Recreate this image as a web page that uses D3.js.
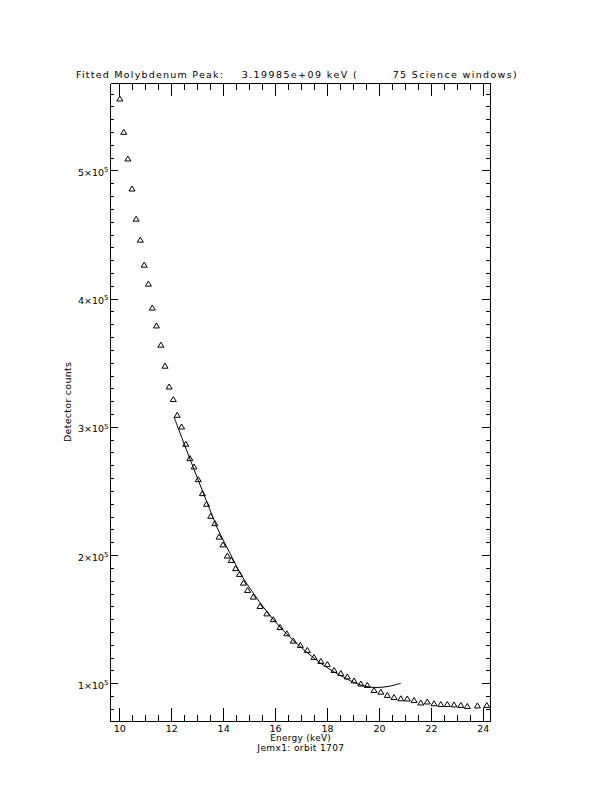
<!DOCTYPE html>
<html><head><meta charset="utf-8">
<script src="https://cdn.jsdelivr.net/npm/d3@7"></script>
<style>
html,body{margin:0;padding:0;background:#fff;}
svg{display:block;}
text{font-family:"DejaVu Sans",sans-serif;fill:#000;}
</style>
</head><body>
<svg id="chart" width="612" height="792"></svg>
<script>
// ---- data ----
const energy = [10.02,10.17,10.33,10.49,10.65,10.81,10.96,11.12,11.27,11.43,
  11.60,11.76,11.92,12.08,12.23,12.40,12.56,12.72,12.88,13.04,
  13.20,13.36,13.52,13.68,13.84,13.99,14.16,14.31,14.48,14.63,
  14.78,14.94,15.16,15.42,15.68,15.93,16.19,16.45,16.70,16.97,
  17.24,17.50,17.76,18.01,18.27,18.53,18.78,19.04,19.30,19.55,
  19.81,20.07,20.32,20.58,20.84,21.09,21.35,21.61,21.86,22.12,
  22.38,22.63,22.89,23.15,23.40,23.79,24.15];
const counts = [556100,530100,509300,485900,462400,446000,426500,411700,393000,379100,
  364100,347700,331500,321700,309400,300300,286800,275600,269100,259200,
  248300,240000,230600,224900,214400,208300,199600,196200,189800,185300,
  178500,172800,167600,160300,154500,150000,143900,139000,133300,129900,
  126000,120500,117400,115100,110400,108000,105300,102200,99800,98700,
  94800,93400,90900,89300,88300,88100,87000,85000,85800,84400,
  83800,83800,83500,83100,82300,82700,83100];
const fitEnergy = [12.11,12.53,12.98,13.37,13.81,14.26,14.71,15.16,15.68,16.19,
  16.70,17.22,17.73,18.24,18.76,19.27,19.65,20.04,20.42,20.84];
const fitCounts = [307600,285000,261500,241500,219500,201500,184000,170300,155900,143900,
  133500,124200,116000,109200,103400,98800,97000,96800,97800,100000];

const xMajorTicks = [10,12,14,16,18,20,22,24];
const xMinorTicks = [10.5,11,11.5,12.5,13,13.5,14.5,15,15.5,16.5,17,17.5,18.5,19,19.5,20.5,21,21.5,22.5,23,23.5];
const yMajorTicks = [100000,200000,300000,400000,500000];
const yTickMantissa = ["1","2","3","4","5"];
const yTickExponent = "5";
const xDomain = [9.642, 24.275];
const yDomain = [70570, 568200];

const titleParts = ["Fitted Molybdenum Peak:", "3.19985e+09 keV (", "75 Science windows)"];
const xTitle = "Energy (keV)";
const xSubtitle = "Jemx1: orbit 1707";
const yTitle = "Detector counts";

// ---- layout ----
const L = 110, R = 490, T = 83, B = 721;
const FS = "9.5px";
const svg = d3.select("#chart");
svg.append("rect").attr("width",612).attr("height",792).attr("fill","#fff");

const x = d3.scaleLinear().domain(xDomain).range([L, R]);
const y = d3.scaleLinear().domain(yDomain).range([B, T]);

const yMinorTicks = d3.range(80000, 568000, 10000).filter(v => v % 100000 !== 0);

function styleAxis(g){
  g.selectAll("path,line").attr("stroke","#000").attr("stroke-width",1).attr("shape-rendering","crispEdges");
  g.selectAll("text").attr("font-family","DejaVu Sans, sans-serif").attr("font-size",FS).attr("fill","#000");
}

// bottom
svg.append("g").attr("transform",`translate(0,${B})`)
  .call(d3.axisBottom(x).tickValues(xMajorTicks).tickSizeInner(-13).tickSizeOuter(0).tickPadding(4).tickFormat(d3.format("d")))
  .call(styleAxis);
svg.append("g").attr("transform",`translate(0,${B})`)
  .call(d3.axisBottom(x).tickValues(xMinorTicks).tickSizeInner(-6.5).tickSizeOuter(0).tickFormat(""))
  .call(g=>g.select(".domain").remove()).call(styleAxis);
// top
svg.append("g").attr("transform",`translate(0,${T})`)
  .call(d3.axisTop(x).tickValues(xMajorTicks).tickSizeInner(-13).tickSizeOuter(0).tickFormat(""))
  .call(styleAxis);
svg.append("g").attr("transform",`translate(0,${T})`)
  .call(d3.axisTop(x).tickValues(xMinorTicks).tickSizeInner(-6.5).tickSizeOuter(0).tickFormat(""))
  .call(g=>g.select(".domain").remove()).call(styleAxis);
// left
svg.append("g").attr("transform",`translate(${L},0)`)
  .call(d3.axisLeft(y).tickValues(yMajorTicks).tickSizeInner(-8).tickSizeOuter(0).tickFormat(""))
  .call(styleAxis);
svg.append("g").attr("transform",`translate(${L},0)`)
  .call(d3.axisLeft(y).tickValues(yMinorTicks).tickSizeInner(-4).tickSizeOuter(0).tickFormat(""))
  .call(g=>g.select(".domain").remove()).call(styleAxis);
// right
svg.append("g").attr("transform",`translate(${R},0)`)
  .call(d3.axisRight(y).tickValues(yMajorTicks).tickSizeInner(-8).tickSizeOuter(0).tickFormat(""))
  .call(styleAxis);
svg.append("g").attr("transform",`translate(${R},0)`)
  .call(d3.axisRight(y).tickValues(yMinorTicks).tickSizeInner(-4).tickSizeOuter(0).tickFormat(""))
  .call(g=>g.select(".domain").remove()).call(styleAxis);

// y tick labels with superscript exponent
yMajorTicks.forEach((v,i)=>{
  const t = svg.append("text").attr("x",L-1.5).attr("y",y(v)+5.5)
    .attr("text-anchor","end").attr("font-size",FS);
  t.append("tspan").text(yTickMantissa[i] + "\u00d710");
  t.append("tspan").attr("dy",-3.8).attr("font-size","7px").text(yTickExponent);
});

// data triangles
const pts = energy.map((e,i)=>[x(e), y(counts[i])]);
svg.append("g").selectAll("path").data(pts).join("path")
  .attr("d", d => `M${d[0]-3},${d[1]+2.5}L${d[0]},${d[1]-2.5}L${d[0]+3},${d[1]+2.5}Z`)
  .attr("fill","none").attr("stroke","#000").attr("stroke-width",1);

// fit curve
const line = d3.line().x(d=>x(d[0])).y(d=>y(d[1])).curve(d3.curveCatmullRom.alpha(0.5));
svg.append("path").datum(fitEnergy.map((e,i)=>[e, fitCounts[i]]))
  .attr("d", line).attr("fill","none").attr("stroke","#000").attr("stroke-width",1);

// title
const titleX = [76, 241.7, 392.7], titleW = [147, 115, 124];
titleParts.forEach((s,i)=>{
  svg.append("text").attr("x",titleX[i]).attr("y",78.3).attr("font-size",FS)
    .attr("textLength",titleW[i]).attr("lengthAdjust","spacing").text(s);
});

// axis titles
svg.append("text").attr("x",300.5).attr("y",741).attr("text-anchor","middle").attr("font-size","9px")
  .attr("textLength",60.7).attr("lengthAdjust","spacing").text(xTitle);
svg.append("text").attr("x",300.7).attr("y",750.5).attr("text-anchor","middle").attr("font-size","9px")
  .attr("textLength",86.7).attr("lengthAdjust","spacing").text(xSubtitle);
svg.append("text").attr("transform","translate(70.5,402) rotate(-90)").attr("text-anchor","middle")
  .attr("font-size",FS).attr("textLength",80).attr("lengthAdjust","spacing").text(yTitle);
</script>
</body></html>
